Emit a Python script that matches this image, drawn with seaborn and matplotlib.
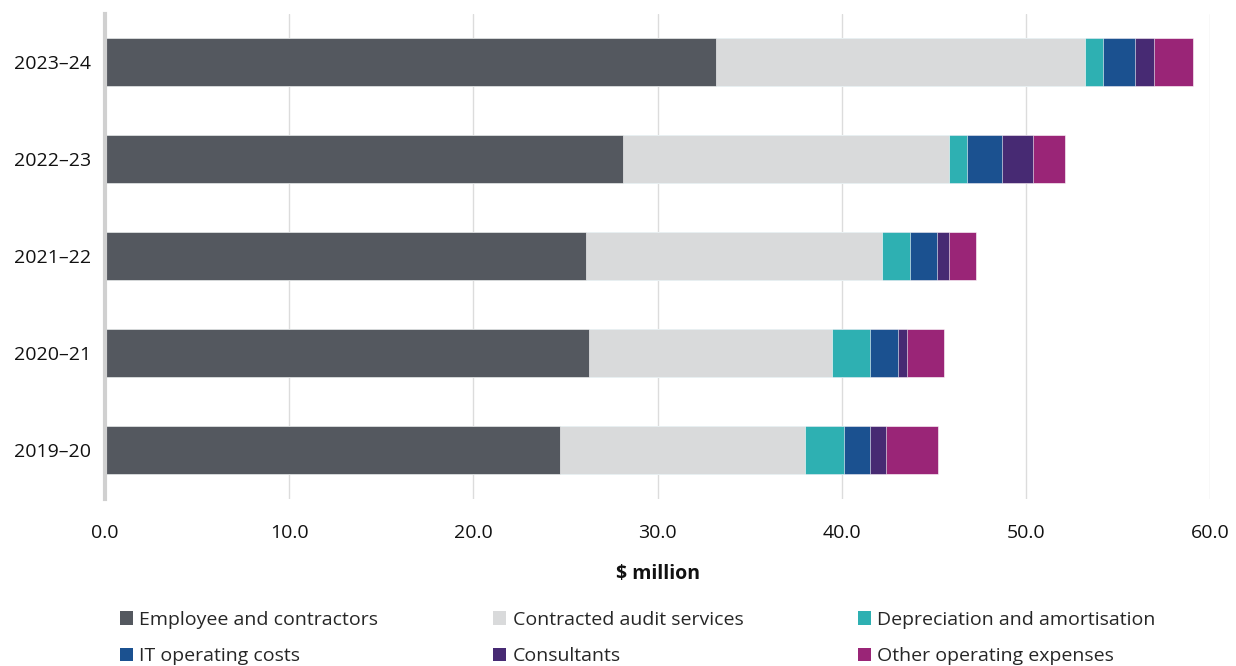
import numpy as np
import pandas as pd
import seaborn as sns
import matplotlib
matplotlib.use("Agg")
import matplotlib.pyplot as plt
from matplotlib.patches import Patch

# Expense data, $ million
years = ["2023–24", "2022–23", "2021–22", "2020–21", "2019–20"]
categories = [
    "Employee and contractors",
    "Contracted audit services",
    "Depreciation and amortisation",
    "IT operating costs",
    "Consultants",
    "Other operating expenses",
]
employee = [33.2, 28.1, 26.1, 26.3, 24.7]
contracted = [20.0, 17.7, 16.1, 13.15, 13.3]
depreciation = [1.0, 1.0, 1.5, 2.1, 2.1]
it_costs = [1.75, 1.9, 1.5, 1.5, 1.45]
consultants = [1.0, 1.7, 0.6, 0.5, 0.85]
other = [2.15, 1.75, 1.5, 2.0, 2.85]
x_ticks = [0, 10, 20, 30, 40, 50, 60]

colors = ["#54585f", "#d9dadb", "#2eb0b2", "#1b5190", "#472a73", "#9a2577"]

series = [employee, contracted, depreciation, it_costs, consultants, other]
df = pd.DataFrame({"year": years})
for name, vals in zip(categories, series):
    df[name] = vals
cum = df[categories].cumsum(axis=1)

sns.set_theme(style="white")
plt.rcParams["font.family"] = ["Open Sans", "DejaVu Sans"]
FS = 14

fig = plt.figure(figsize=(12.36, 6.66), dpi=100)
ax = fig.add_axes([0.085, 0.2515, 0.894, 0.7282])

# Stacked bars: draw cumulative totals from the outermost layer inwards
for name, col in reversed(list(zip(categories, colors))):
    sns.barplot(
        x=cum[name], y=df["year"], order=years, orient="h",
        color=col, width=0.5, ax=ax, saturation=1,
        edgecolor="white", linewidth=0.4,
    )

ax.set_xlim(0, 60)
ax.set_ylim(4.5, -0.5)
ax.set_xticks(x_ticks)
ax.set_xticklabels([f"{t:.1f}" for t in x_ticks], fontsize=FS, color="#111111")
ax.tick_params(axis="x", length=0, pad=18)
ax.tick_params(axis="y", length=0, pad=10, labelsize=FS, labelcolor="#111111")
ax.set_ylabel("")
ax.set_xlabel("$ million", fontsize=FS, fontweight="bold", labelpad=16, color="#111111")

ax.xaxis.grid(True, color="#dcdcdc", linewidth=1)
ax.set_axisbelow(True)
for s in ["top", "right", "bottom"]:
    ax.spines[s].set_visible(False)
ax.spines["left"].set_color("#d0d0d0")
ax.spines["left"].set_linewidth(3)

handles = [Patch(facecolor=c, edgecolor="none", label=n) for n, c in zip(categories, colors)]
# reorder so rows read left-to-right
order = [0, 3, 1, 4, 2, 5]
fig.legend(
    [handles[i] for i in order], [categories[i] for i in order],
    ncol=3, loc="upper left", bbox_to_anchor=(0.097, 0.083),
    frameon=False, fontsize=FS, handlelength=0.65, handleheight=0.7,
    handletextpad=0.35, columnspacing=5.9, labelspacing=0.95,
    borderaxespad=0, borderpad=0,
)

fig.savefig("out.png", dpi=100)
